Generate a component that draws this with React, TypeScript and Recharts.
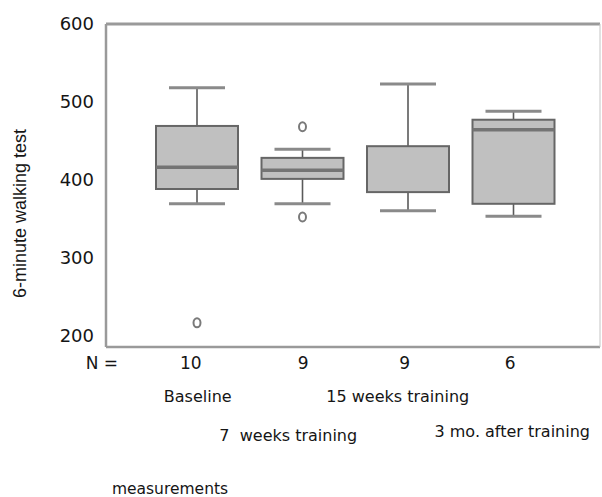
import React from 'react';
import { ComposedChart, Bar, XAxis, YAxis, Label } from 'recharts';

// ---- data ----
const categories = ['Baseline', '7  weeks training', '15 weeks training', '3 mo. after training'];
const nCounts = [10, 9, 9, 6];
const whiskerLow = [369, 369, 360, 353];
const q1 = [388, 401, 384, 369];
const median: (number | null)[] = [416, 412, null, 464];
const q3 = [469, 428, 443, 477];
const whiskerHigh = [518, 439, 523, 488];
const outliers: number[][] = [[216], [468, 352], [], []];
const yTicks = [200, 300, 400, 500, 600];

const data = categories.map((name, i) => ({
  name,
  box: [q1[i], q3[i]],
  lo: whiskerLow[i],
  q1: q1[i],
  med: median[i],
  q3: q3[i],
  hi: whiskerHigh[i],
  out: outliers[i],
}));

// ---- layout / style ----
const FONT = '"DejaVu Sans", sans-serif';
const TEXT = '#151515';
const nDx = [-6, 1, -3, -3];
const catDx = [1, -14, -10, -1];
const catDy = [55, 94, 55, 90];

const BoxShape = (props: any) => {
  const { x, y, width, height, payload } = props;
  const top = Math.min(y, y + height);
  const h = Math.abs(height);
  const k = h / (payload.q3 - payload.q1);
  const py = (v: number) => top + (payload.q3 - v) * k;
  const cx = x + width / 2;
  const capHalf = 28;
  return (
    <g>
      <line x1={cx} x2={cx} y1={py(payload.hi)} y2={top} stroke="#5a5a5a" strokeWidth={1.6} />
      <line x1={cx} x2={cx} y1={top + h} y2={py(payload.lo)} stroke="#5a5a5a" strokeWidth={1.6} />
      <line x1={cx - capHalf} x2={cx + capHalf} y1={py(payload.hi)} y2={py(payload.hi)} stroke="#8a8a8a" strokeWidth={3} />
      <line x1={cx - capHalf} x2={cx + capHalf} y1={py(payload.lo)} y2={py(payload.lo)} stroke="#8a8a8a" strokeWidth={3} />
      <rect x={x} y={top} width={width} height={h} fill="#c0c0c0" stroke="#666" strokeWidth={2} />
      {payload.med != null && (
        <line x1={x} x2={x + width} y1={py(payload.med)} y2={py(payload.med)} stroke="#747474" strokeWidth={3.5} />
      )}
      {payload.out.map((v: number, j: number) => (
        <ellipse key={j} cx={cx} cy={py(v)} rx={3.5} ry={4.5} fill="#fff" stroke="#7a7a7a" strokeWidth={2} />
      ))}
    </g>
  );
};

const XTick = (props: any) => {
  const { x, y, index } = props;
  return (
    <g>
      <text x={x + nDx[index]} y={y + 22} textAnchor="middle" fontFamily={FONT} fontSize={17} fill={TEXT}>
        {nCounts[index]}
      </text>
      <text
        x={x + catDx[index]}
        y={y + catDy[index]}
        textAnchor="middle"
        fontFamily={FONT}
        fontSize={16}
        fill={TEXT}
        style={{ whiteSpace: 'pre' }}
      >
        {categories[index]}
      </text>
    </g>
  );
};

const XLabels = (p: any) => {
  const vb = p.viewBox || { x: 106, y: 347 };
  return (
    <g>
      <text x={vb.x + 12} y={vb.y + 22} textAnchor="end" fontFamily={FONT} fontSize={17} fill={TEXT} style={{ whiteSpace: 'pre' }}>
        {'N ='}
      </text>
      <text x={vb.x + 64} y={vb.y + 147} textAnchor="middle" fontFamily={FONT} fontSize={15.5} fill={TEXT}>
        measurements
      </text>
    </g>
  );
};

const YLabel = (p: any) => {
  const vb = p.viewBox || { x: 0, y: 24, height: 323 };
  const cx = vb.x + 26;
  const cy = vb.y + vb.height / 2 + 28;
  return (
    <text
      x={cx}
      y={cy}
      transform={`rotate(-90, ${cx}, ${cy})`}
      textAnchor="middle"
      fontFamily='"Liberation Sans", Arial, sans-serif'
      fontSize={18}
      fill={TEXT}
    >
      6-minute walking test
    </text>
  );
};

export default function App() {
  return (
    <div style={{ position: 'absolute', left: 0, top: 0, width: 602, height: 497, background: '#fff' }}>
      <ComposedChart width={602} height={497} data={data} margin={{ top: 23, right: 1, bottom: 120, left: 0 }}>
        <XAxis
          dataKey="name"
          type="category"
          height={30}
          interval={0}
          tickSize={0}
          tickMargin={0}
          tickLine={false}
          tick={<XTick />}
          axisLine={{ stroke: '#9a9a9a', strokeWidth: 2.5 }}
          padding={{ left: 38, right: 34 }}
        >
          <Label content={<XLabels />} />
        </XAxis>
        <XAxis
          xAxisId="top"
          dataKey="name"
          type="category"
          orientation="top"
          height={1}
          tick={false}
          tickLine={false}
          axisLine={{ stroke: '#9a9a9a', strokeWidth: 3 }}
        />
        <YAxis
          type="number"
          domain={[185, 600]}
          ticks={yTicks}
          width={106}
          tickSize={0}
          tickMargin={12}
          tickLine={false}
          axisLine={{ stroke: '#9a9a9a', strokeWidth: 2.5 }}
          tick={{ fontFamily: FONT, fontSize: 18, fill: TEXT }}
        >
          <Label content={<YLabel />} />
        </YAxis>
        <YAxis
          yAxisId="right"
          type="number"
          orientation="right"
          width={1}
          domain={[185, 600]}
          tick={false}
          tickLine={false}
          axisLine={{ stroke: '#c4c4c4', strokeWidth: 1 }}
        />
        <Bar dataKey="box" barSize={82} shape={<BoxShape />} isAnimationActive={false} />
      </ComposedChart>
    </div>
  );
}
